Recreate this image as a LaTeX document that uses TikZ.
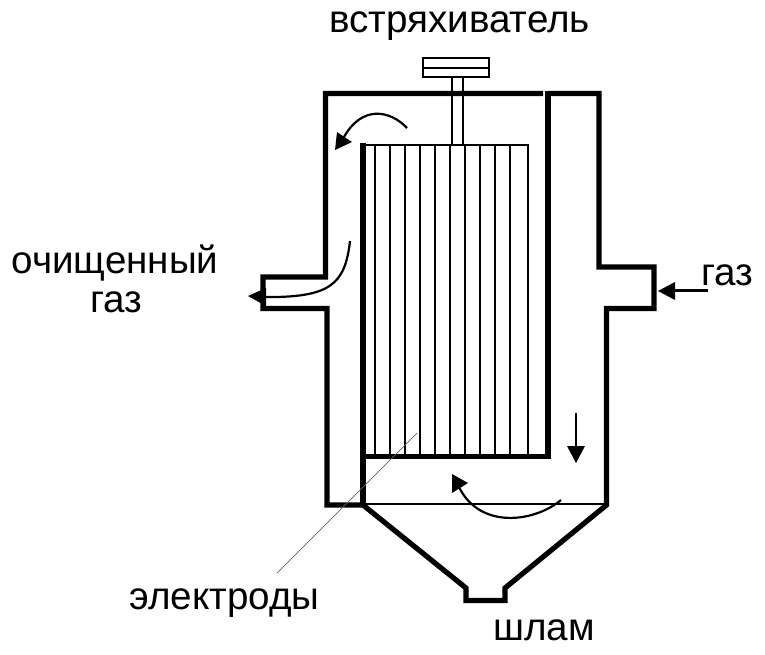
\documentclass[tikz,border=0pt]{standalone}
\usepackage{fontspec}
\setmainfont{Liberation Sans}
\tikzset{
  wall/.style={line width=5.2pt,line join=miter,line cap=butt},
  fine/.style={line width=2pt},
  flow/.style={line width=2.2pt},
  head/.style={fill=black,draw=none},
  lbl/.style={font=\fontsize{38.6}{42}\selectfont,anchor=base,inner sep=0pt}
}
\begin{document}
\begin{tikzpicture}[x=1pt,y=-1pt]
\useasboundingbox (0,0) rectangle (765,654);
% shell
\draw[wall] (543,93.5) -- (325.5,93.5) -- (325.5,277) -- (263,277) -- (263,308.5) -- (327,308.5) -- (327,505) -- (363,505)
  -- (466,588) -- (466,600.5) -- (505,600.5) -- (505,588) -- (606.5,505) -- (606.5,308.5) -- (654,308.5) -- (654,267) -- (599,267) -- (599,93.5) -- (548,93.5);
% inner duct
\draw[wall] (363,143) -- (363,505);
\draw[wall] (360.5,456.5) -- (548,456.5) -- (548,91);
% hopper level
\draw[fine] (363,504) -- (606,504);
% electrodes
\draw[fine] (363,145) -- (529,145);
\foreach \ex in {375,390,405,420,435,450,465,480,495,510}
  \draw[fine] (\ex,145) -- (\ex,456);
\draw[line width=1.4pt] (528,145) -- (528,456);
% shaker
\draw[fine] (423,58) rectangle (489,77);
\draw[fine] (423,68) -- (489,68);
\draw[fine] (452,77) -- (452,145);
\draw[fine] (462.5,77) -- (462.5,145);
% flow arrows
\draw[flow] (407,128) .. controls (390,110) and (362,105) .. (344,137);
\fill[head] (335,150) -- (337,132) -- (352,142) -- cycle;
\draw[flow] (350,241) .. controls (345,285) and (330,298) .. (262,297);
\fill[head] (248,296) -- (266,288) -- (266,306) -- cycle;
\draw[flow] (576,413) -- (576,450);
\fill[head] (576,463) -- (567,446) -- (585,446) -- cycle;
\draw[flow] (561,500) .. controls (535,522) and (480,530) .. (459,487);
\fill[head] (452,474) -- (452,493) -- (468,483) -- cycle;
\draw[flow] (708,290.5) -- (670,290.5);
\fill[head] (658,291) -- (675,282) -- (675,300) -- cycle;
% labels
\node[lbl] (shaker) at (459.5,32) {встряхиватель};
\node[lbl] (clean1) at (115,273) {очищенный};
\node[lbl] (clean2) at (116,312) {газ};
\node[lbl] (gas) at (727,285) {газ};
\node[lbl] (electrodes) at (224.5,609) {электроды};
\node[lbl] (sludge) at (544,640) {шлам};
% leader
\coordinate (leaderend) at (417,433);
\coordinate (leaderstart) at (277,573);
\draw[line width=0.7pt,black!60] (leaderstart) -- (leaderend);
\end{tikzpicture}
\end{document}
